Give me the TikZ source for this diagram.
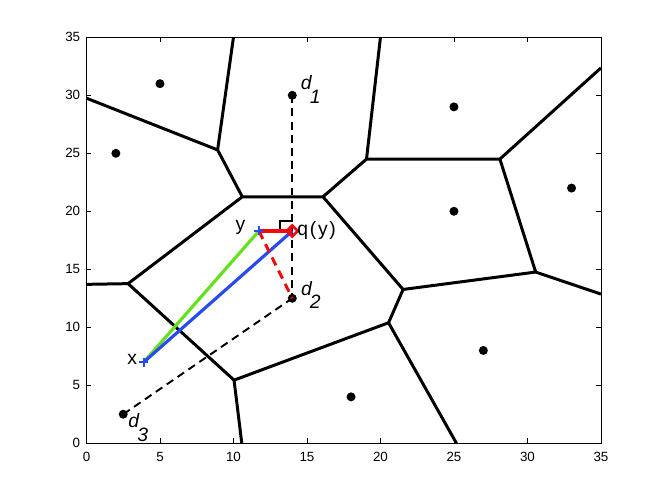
\documentclass[tikz,border=0pt]{standalone}
\usepackage{fontspec}
\setmainfont{Liberation Sans}
\usetikzlibrary{shapes.geometric}

\definecolor{lineblue}{RGB}{40,75,240}
\definecolor{linegreen}{RGB}{100,225,30}
\definecolor{linered}{RGB}{240,10,10}

\tikzset{
  cell/.style={line width=1.7pt, line join=round},
  link/.style={line width=1.1pt, dash pattern=on 4.5pt off 3pt},
  site/.style={circle, fill=black, inner sep=0pt, minimum size=0.18cm},
  ticklab/.style={inner sep=0pt, font=\fontsize{7.6}{9}\selectfont},
  lab/.style={inner sep=0pt, font=\fontsize{11}{13}\selectfont},
  qmark/.style={diamond, draw=linered, line width=1.5pt, inner sep=0pt, minimum size=0.24cm}
}

\begin{document}
\begin{tikzpicture}[x=0.294cm, y=0.232cm]
  \useasboundingbox (-5.884,-4.888) rectangle (39.29,38.216);

  % axes box and ticks
  \draw[line width=0.5pt] (0,0) rectangle (35,35);
  \foreach \t in {0,5,...,35} {
    \draw[line width=0.5pt] (\t,0) -- ++(0pt,0.1cm);
    \draw[line width=0.5pt] (\t,35) -- ++(0pt,-0.1cm);
    \draw[line width=0.5pt] (0,\t) -- ++(0.1cm,0pt);
    \draw[line width=0.5pt] (35,\t) -- ++(-0.1cm,0pt);
    \node[ticklab, anchor=north] (xt\t) at (\t,-0.75) {\t};
    \node[ticklab, anchor=east] (yt\t) at (-0.41,\t) {\t};
  }

  % Voronoi vertices
  \coordinate (A) at (0,29.75);
  \coordinate (B) at (8.92,25.29);
  \coordinate (Bt) at (10,35);
  \coordinate (C) at (10.60,21.25);
  \coordinate (D) at (16.09,21.25);
  \coordinate (E) at (19.05,24.5);
  \coordinate (Et) at (20,35);
  \coordinate (F) at (28.125,24.5);
  \coordinate (Fr) at (35,32.36);
  \coordinate (G) at (30.56,14.76);
  \coordinate (Gr) at (35,12.86);
  \coordinate (H) at (21.54,13.26);
  \coordinate (I) at (20.55,10.39);
  \coordinate (Ib) at (25.17,0);
  \coordinate (J) at (10.04,5.44);
  \coordinate (Jb) at (10.565,0);
  \coordinate (K) at (2.83,13.76);
  \coordinate (Kl) at (0,13.70);

  % cell edges
  \draw[cell] (A) -- (B) -- (C) -- (D) -- (E) -- (F) -- (G) -- (H) -- (I) -- (J) -- (K) -- (C);
  \draw[cell] (B) -- (Bt);
  \draw[cell] (E) -- (Et);
  \draw[cell] (F) -- (Fr);
  \draw[cell] (G) -- (Gr);
  \draw[cell] (H) -- (D);
  \draw[cell] (I) -- (Ib);
  \draw[cell] (J) -- (Jb);
  \draw[cell] (K) -- (Kl);

  % sites
  \node[site] (d1) at (14,30) {};
  \node[site] (d2) at (14,12.5) {};
  \node[site] (d3) at (2.5,2.5) {};
  \node[site] (s1) at (5,31) {};
  \node[site] (s2) at (2,25) {};
  \node[site] (s3) at (25,29) {};
  \node[site] (s4) at (33,22) {};
  \node[site] (s5) at (25,20) {};
  \node[site] (s6) at (27,8) {};
  \node[site] (s7) at (18,4) {};

  % points x, y and q(y)
  \coordinate (px) at (3.9,7.0);
  \coordinate (py) at (11.73,18.3);
  \coordinate (pq) at (14,18.3);

  % dashed links between sites
  \draw[link] (d1.center) -- (d2.center);
  \draw[link] (d3.center) -- (d2.center);
  \draw[line width=1.1pt] (pq) ++(-0.85,0) coordinate (r1) -- ++(0,0.9) coordinate (r2) -- ++(0.85,0) coordinate (r3);

  % paths
  \draw[linegreen, line width=1.8pt] (px) -- (py);
  \draw[lineblue, line width=1.8pt] (px) -- (pq);
  \draw[linered, line width=1.7pt, dash pattern=on 5pt off 3.4pt] (py) -- (d2.center);
  \draw[linered, line width=1.8pt] (py) -- (pq);

  % markers
  \draw[lineblue, line width=1.3pt] ([xshift=-0.09cm]px) -- ([xshift=0.09cm]px) ([yshift=-0.09cm]px) -- ([yshift=0.09cm]px);
  \draw[lineblue, line width=1.3pt] ([xshift=-0.09cm]py) -- ([xshift=0.09cm]py) ([yshift=-0.09cm]py) -- ([yshift=0.09cm]py);
  \node[qmark] (qm) at (pq) {};

  % labels
  \node[lab, anchor=base west] (d1l) at (14.56,30.46) {\itshape d\kern-1pt\raisebox{-0.27cm}{1}};
  \node[lab, anchor=base west] (d2l) at (14.57,12.78) {\itshape d\kern-1pt\raisebox{-0.27cm}{2}};
  \node[lab, anchor=base west] (d3l) at (2.82,1.34) {\itshape d\kern-1pt\raisebox{-0.27cm}{3}};
  \node[lab, anchor=base east] (xl) at (3.47,6.75) {x};
  \node[lab, anchor=base east] (yl) at (10.82,18.34) {y};
  \node[lab, anchor=base west] (ql) at (14.32,17.87) {q\kern1pt(\kern1pt y\kern1pt)};
\end{tikzpicture}
\end{document}
